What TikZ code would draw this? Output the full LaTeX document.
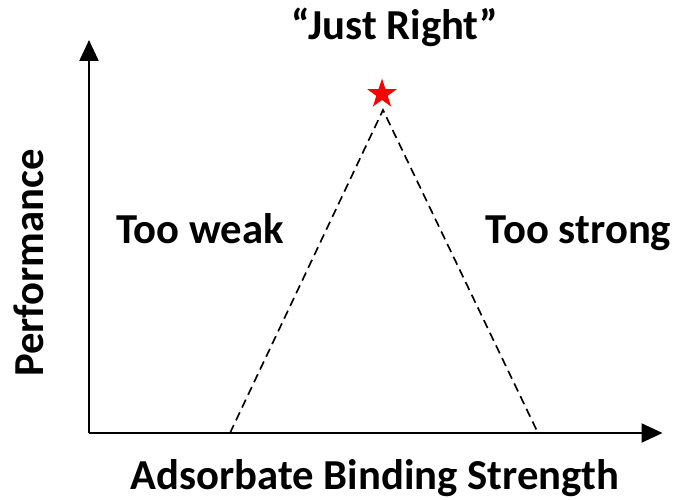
\documentclass[tikz,border=0pt]{standalone}
\usepackage{fontspec}
\setmainfont{Carlito}
\usetikzlibrary{arrows.meta,shapes.geometric}

\begin{document}
\begin{tikzpicture}[
    font=\fontsize{24.3}{28}\selectfont\bfseries,
    axis/.style={-{Triangle[length=4.2mm, width=3.8mm]}, line width=1.3pt},
    volcano/.style={line width=0.95pt, dash pattern=on 5pt off 3pt},
    label/.style={anchor=base, inner sep=0pt},
    optimum/.style={star, star points=5, star point ratio=2.6, fill=red,
        draw=none, minimum size=0.62cm, inner sep=0pt},
]
    \useasboundingbox (0,0) rectangle (13.54,9.98);
    % axes
    \coordinate (origin) at (1.78,1.32);
    \coordinate (ytip) at (1.78,9.18);
    \coordinate (xtip) at (13.25,1.32);
    \draw[axis] (origin) -- (ytip);
    \draw[axis] (origin) -- (xtip);
    % volcano plot
    \coordinate (weakend) at (4.6,1.32);
    \coordinate (peak) at (7.66,7.78);
    \coordinate (strongend) at (10.76,1.32);
    \draw[volcano] (weakend) -- (peak) -- (strongend);
    \node[optimum] (best) at (7.64,8.1) {};
    % labels
    \node[label] (title) at (7.9,9.18) {“Just Right”};
    \node[label] (weak) at (4.0,5.12) {Too weak};
    \node[label] (strong) at (11.57,5.12) {Too strong};
    \node[label] (xlabel) at (7.5,0.2) {Adsorbate Binding Strength};
    \node[label, rotate=90] (ylabel) at (0.86,4.72) {Performance};
\end{tikzpicture}
\end{document}
